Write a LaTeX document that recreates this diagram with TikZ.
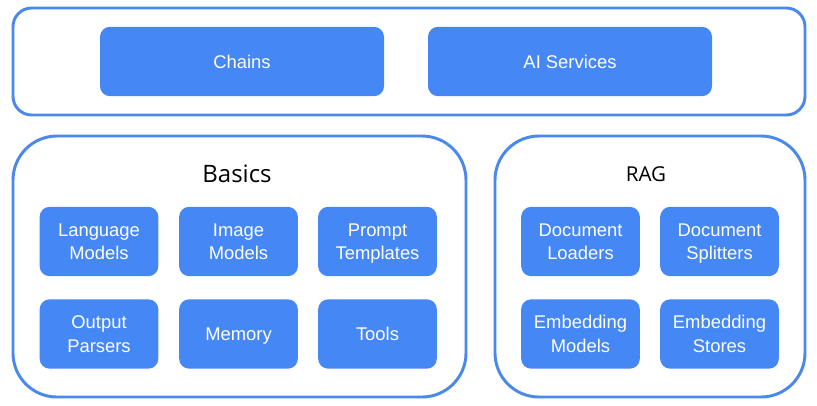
\documentclass[tikz,border=0pt]{standalone}
\usepackage{fontspec}
\setmainfont{Liberation Sans}
\newfontfamily\titlefont{Open Sans}
\usetikzlibrary{positioning}
\definecolor{boxblue}{HTML}{4587F5}
\definecolor{lineblue}{HTML}{4A88EA}
\newcommand{\modstrut}{\rule[-3.8pt]{0pt}{17.5pt}}
\newcommand{\modlabel}[2]{\modstrut#1\\#2\modstrut}
\tikzset{
  group/.style={draw=lineblue, line width=2.2pt, fill=white, inner sep=0pt},
  module/.style={fill=boxblue, text=white, rounded corners=7.5pt, minimum width=89pt, minimum height=52pt,
    align=center, inner sep=0pt, font=\fontsize{13.8}{17.5}\selectfont,
    execute at begin node=\modstrut, execute at end node=\modstrut},
  wide/.style={module, minimum width=213pt}
}
\begin{document}
\begin{tikzpicture}[x=0.75pt,y=-0.75pt]
\useasboundingbox (0,0) rectangle (817,405);
% outer groups
\draw [group, rounded corners=14pt] (13,8) rectangle (805,115);
\draw [group, rounded corners=33pt] (13,136) rectangle (466,397);
\draw [group, rounded corners=33pt] (495,136) rectangle (805,397);
\node (basics) at (237,174) {\titlefont\fontsize{18}{20}\selectfont Basics};
\node (rag) at (646,174) {\titlefont\fontsize{15.4}{18}\selectfont RAG};

% top row
\node [wide] (chains) at (242,61.5) {Chains};
\node [wide] (aiserv) at (570,61.5) {AI Services};

% basics
\node [module] (langm) at (99,241.5) {\modlabel{Language}{Models}};
\node [module] (imgm) at (238.5,241.5) {\modlabel{Image}{Models}};
\node [module] (prompt) at (377.5,241.5) {\modlabel{Prompt}{Templates}};
\node [module] (parsers) at (99,334) {\modlabel{Output}{Parsers}};
\node [module] (memory) at (238.5,334) {Memory};
\node [module] (tools) at (377.5,334) {Tools};

% rag
\node [module] (docload) at (580.5,241.5) {\modlabel{Document}{Loaders}};
\node [module] (docsplit) at (719.5,241.5) {\modlabel{Document}{Splitters}};
\node [module] (embmod) at (580.5,334) {\modlabel{Embedding}{Models}};
\node [module] (embstore) at (719.5,334) {\modlabel{Embedding}{Stores}};
\end{tikzpicture}
\end{document}
